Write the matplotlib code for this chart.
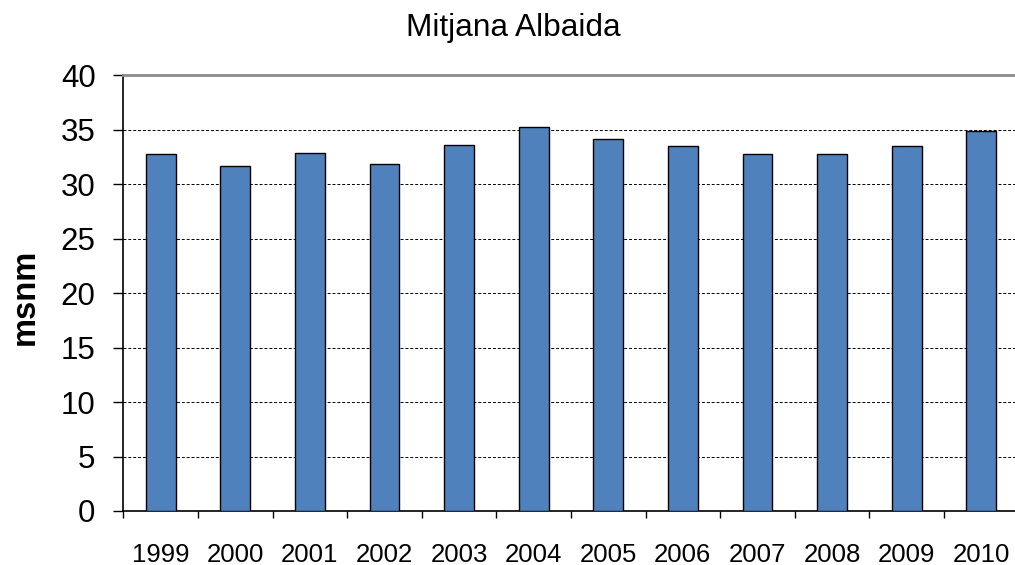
import matplotlib
matplotlib.use("Agg")
import matplotlib.pyplot as plt
import numpy as np

# data
years = ["1999", "2000", "2001", "2002", "2003", "2004",
         "2005", "2006", "2007", "2008", "2009", "2010"]
levels = [32.8, 31.7, 32.9, 31.9, 33.6, 35.3, 34.2, 33.5, 32.8, 32.8, 33.5, 34.9]

plt.rcParams["font.family"] = ["Liberation Sans", "DejaVu Sans"]

fig = plt.figure(figsize=(10.15, 5.65), dpi=100)
ax = fig.add_axes([0.1215, 0.0956, 0.882, 0.771])

x = np.arange(len(years))
ax.bar(x, levels, width=0.4, color="#4F81BD", edgecolor="black", linewidth=1.0, zorder=3)

ax.set_xlim(-0.5, len(years) - 0.5)
ax.set_ylim(0, 40)
ax.set_yticks(np.arange(0, 41, 5))
ax.tick_params(axis="y", labelsize=22.5, length=7, width=1, pad=13, direction="out")

# year labels at bar centres, tick marks between categories
ax.set_xticks(x)
ax.set_xticklabels(years)
ax.set_xticks(np.arange(-0.5, len(years), 1), minor=True)
ax.tick_params(axis="x", which="major", length=0, labelsize=18.5, pad=23)
ax.tick_params(axis="x", which="minor", length=5, width=1, direction="out")

for yv in range(5, 40, 5):
    ax.axhline(yv, color="black", linestyle=(0, (3, 2)), linewidth=0.7, zorder=1)

ax.spines["top"].set_color("#8c8c8c")
ax.spines["top"].set_linewidth(2)
ax.spines["right"].set_visible(False)
ax.spines["left"].set_linewidth(1.2)
ax.spines["bottom"].set_linewidth(1.2)

fig.text(0.506, 0.950, "Mitjana Albaida", ha="center", va="center", fontsize=22.8)
fig.text(0.0246, 0.474, "msnm", ha="center", va="center", rotation=90,
         fontsize=23.5, fontweight="bold")

fig.savefig("out.png", dpi=100)
